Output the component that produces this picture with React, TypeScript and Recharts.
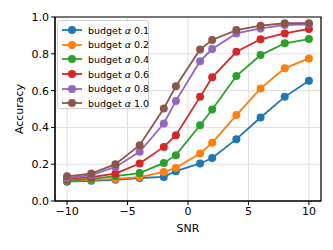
import {
  LineChart,
  Line,
  XAxis,
  YAxis,
  CartesianGrid,
  ReferenceArea,
  Label,
} from 'recharts'

const snr = [-10, -8, -6, -4, -2, -1, 1, 2, 4, 6, 8, 10]

const alpha01 = [0.105, 0.11, 0.115, 0.125, 0.131, 0.162, 0.204, 0.234, 0.336, 0.454, 0.566, 0.653]
const alpha02 = [0.11, 0.115, 0.12, 0.13, 0.158, 0.18, 0.258, 0.316, 0.467, 0.612, 0.721, 0.775]
const alpha04 = [0.11, 0.12, 0.135, 0.152, 0.207, 0.249, 0.412, 0.497, 0.679, 0.793, 0.857, 0.88]
const alpha06 = [0.12, 0.13, 0.149, 0.204, 0.294, 0.358, 0.566, 0.672, 0.811, 0.879, 0.911, 0.935]
const alpha08 = [0.125, 0.14, 0.185, 0.267, 0.421, 0.544, 0.76, 0.826, 0.911, 0.938, 0.956, 0.96]
const alpha10 = [0.134, 0.149, 0.2, 0.303, 0.503, 0.624, 0.824, 0.875, 0.929, 0.953, 0.966, 0.966]

const seriesLabels = ['0.1', '0.2', '0.4', '0.6', '0.8', '1.0']
const seriesValues = [alpha01, alpha02, alpha04, alpha06, alpha08, alpha10]
const colors = ['#1f77b4', '#ff7f0e', '#2ca02c', '#d62728', '#9467bd', '#8c564b']

const xTicks = [-10, -5, 0, 5, 10]
const yTicks = [0, 0.2, 0.4, 0.6, 0.8, 1.0]

const data = snr.map((x, i) => {
  const row: Record<string, number> = { snr: x }
  seriesValues.forEach((vals, k) => {
    row[`a${k}`] = vals[i]
  })
  return row
})

const FONT = '"DejaVu Sans", sans-serif'
const tickStyle = { fontSize: 11, fill: '#000', fontFamily: FONT }

// matplotlib uses a real minus sign on tick labels
const fmtX = (v: number) => (v < 0 ? `\u2212${Math.abs(v)}` : `${v}`)

const LegendBox = () => (
  <div
    style={{
      position: 'absolute',
      left: 57,
      top: 20,
      width: 92,
      height: 89,
      border: '1px solid #d0d0d0',
      borderRadius: 3,
      background: 'rgba(255,255,255,0.8)',
      fontFamily: FONT,
      fontSize: 9.5,
      boxSizing: 'border-box',
      paddingTop: 2,
    }}
  >
    {seriesLabels.map((lab, k) => (
      <div key={lab} style={{ display: 'flex', alignItems: 'center', height: 14.6 }}>
        <svg width={30} height={12} style={{ flex: 'none' }}>
          <line x1={4} y1={6} x2={24} y2={6} stroke={colors[k]} strokeWidth={1.8} />
          <circle cx={14} cy={6} r={4} fill={colors[k]} />
        </svg>
        <span style={{ whiteSpace: 'nowrap', color: '#000' }}>
          budget <i>α</i> {lab}
        </span>
      </div>
    ))}
  </div>
)

export default function App() {
  return (
    <div style={{ position: 'absolute', left: 0, top: 0, width: 333, height: 250, background: '#fff' }}>
      <LineChart
        width={333}
        height={250}
        data={data}
        margin={{ top: 17, right: 12, bottom: 19, left: 10 }}
      >
        <CartesianGrid stroke="#e0e0e0" strokeWidth={1} />
        <XAxis
          dataKey="snr"
          type="number"
          domain={[-11, 11]}
          ticks={xTicks}
          height={30}
          tick={tickStyle}
          tickSize={4}
          tickLine={{ stroke: '#000' }}
          axisLine={{ stroke: '#000' }}
          tickFormatter={fmtX}
        >
          <Label value="SNR" position="insideBottom" offset={-1} style={{ fontSize: 11, fill: '#000', fontFamily: FONT }} />
        </XAxis>
        <YAxis
          type="number"
          domain={[0, 1]}
          ticks={yTicks}
          width={45}
          tick={tickStyle}
          tickSize={4}
          tickLine={{ stroke: '#000' }}
          axisLine={{ stroke: '#000' }}
          tickFormatter={(v: number) => v.toFixed(1)}
        >
          <Label value="Accuracy" angle={-90} position="insideLeft" offset={9} style={{ fontSize: 11, fill: '#000', fontFamily: FONT, textAnchor: 'middle' }} />
        </YAxis>
        {seriesValues.map((_, k) => (
          <Line
            key={k}
            dataKey={`a${k}`}
            stroke={colors[k]}
            strokeWidth={1.8}
            dot={{ r: 4, fill: colors[k], stroke: colors[k], strokeWidth: 0 }}
            activeDot={false}
            isAnimationActive={false}
          />
        ))}
        <ReferenceArea x1={-11} x2={11} y1={0} y2={1} fill="none" stroke="#000" strokeWidth={1.2} />
      </LineChart>
      <LegendBox />
    </div>
  )
}
